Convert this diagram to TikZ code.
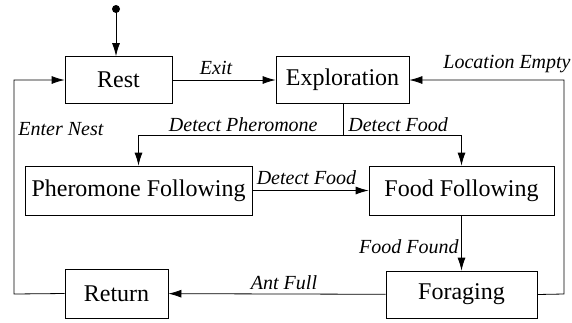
\documentclass[tikz,border=0pt]{standalone}
\usepackage{fontspec}
\setmainfont{Liberation Serif}
\usepackage{tikz}
\usetikzlibrary{arrows.meta}

\tikzset{
  state/.style={draw, inner sep=0pt, minimum height=47pt, font=\fontsize{24}{28}\selectfont},
  lbl/.style={inner sep=0pt, font=\fontsize{20}{24}\selectfont\itshape},
  trans/.style={line width=0.8pt, -{Latex[length=13pt,width=8pt]}},
}

\begin{document}
\begin{tikzpicture}[x=1pt,y=-1pt,line width=0.8pt]
\useasboundingbox (0,0) rectangle (572,322);

\node[state, minimum width=107pt] (rest) at (118.5,80) {Rest};
\node[state, minimum width=133pt] (expl) at (342.5,80) {Exploration};
\node[state, minimum width=227pt, minimum height=49pt] (pher) at (138.5,190.5) {Pheromone Following};
\node[state, minimum width=185pt, minimum height=49pt] (food) at (461.5,190.5) {Food Following};
\node[state, minimum width=151pt] (forag) at (461.5,294.5) {Foraging};
\node[state, minimum width=103pt, minimum height=49pt] (ret) at (116.5,293.5) {Return};

% start state
\fill (116,9) circle (4pt);
\coordinate (start) at (116,9);
\draw[trans] (start) -- (start |- rest.north);

\draw[trans] (rest) -- (expl);
\node[lbl] (exit) at (216,68) {Exit};

\coordinate (split) at (343,135);
\draw (expl.south -| split) -- (split);
\draw[trans] (split) -| (pher.north);
\draw[trans] (split) -| (food.north);
\node[lbl, anchor=base east] (detpher) at (318,131) {Detect Pheromone};
\node[lbl, anchor=base west] (detfood) at (348,131) {Detect Food};

\draw[trans] (pher) -- (food);
\node[lbl] (detfood2) at (306.5,178) {Detect Food};

\draw[trans] (food) -- (forag);
\node[lbl, anchor=east] (found) at (459,247) {Food Found};

\draw[trans] (forag) -- (ret);
\node[lbl] (full) at (284,283) {Ant Full};

% loops back
\coordinate (lb) at (14,294);
\coordinate (rb) at (564,294);
\draw[trans] (ret.west) -- (lb) |- (rest.west);
\node[lbl, anchor=west] (nest) at (18,129) {Enter Nest};
\draw[trans] (forag.east) -- (rb) |- (expl.east);
\node[lbl, anchor=east] (empty) at (571,64) {Location Empty};
\end{tikzpicture}
\end{document}
